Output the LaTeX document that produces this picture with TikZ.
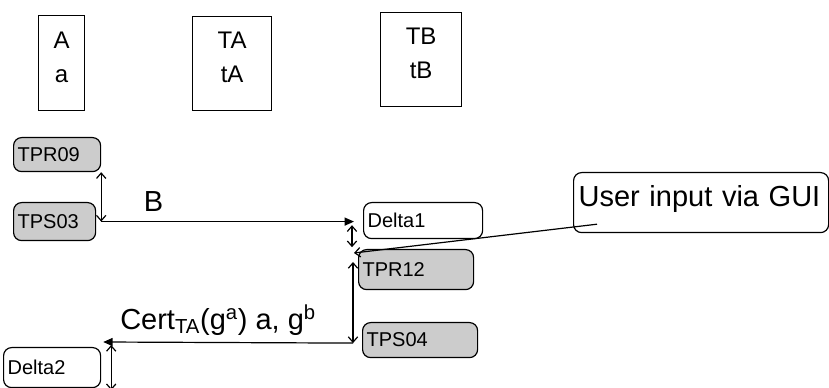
\documentclass[tikz,border=0pt]{standalone}
\usepackage{fontspec}
\setmainfont{Liberation Sans}
\usetikzlibrary{arrows.meta}

\begin{document}
\begin{tikzpicture}[x=0.75pt,y=-0.75pt,line width=0.9pt,
    party/.style={draw, anchor=north west, inner sep=0pt, align=center, text depth=9.5pt, font=\fontsize{18}{25.5}\selectfont},
    tpbox/.style={draw, rounded corners=6pt, anchor=north west, inner xsep=3pt, inner ysep=0pt, align=left, font=\fontsize{15}{18}\selectfont},
    msg/.style={font=\fontsize{21.75}{26}\selectfont},
    dbl/.style={{Straight Barb[length=4pt,width=7pt]}-{Straight Barb[length=4pt,width=7pt]}},
    snd/.style={-{Triangle[length=7pt,width=6pt]}}]
    \useasboundingbox (0,0) rectangle (829,388);

    % parties
    \node[party, minimum width=34.5pt, minimum height=71.25pt] (A) at (38,15) {A\\a};
    \node[party, minimum width=59.25pt, minimum height=70.5pt] (TA) at (192,16) {TA\\tA};
    \node[party, minimum width=60.75pt, minimum height=70.5pt] (TB) at (380,12) {TB\\tB};

    % processing steps
    \node[tpbox, fill=black!20, text width=59.25pt, minimum height=25.5pt] (TPR09) at (13,137) {TPR09};
    \node[tpbox, fill=black!20, text width=55.5pt, minimum height=28.5pt] (TPS03) at (13,202) {TPS03};
    \node[tpbox, text width=83.25pt, minimum height=27pt] (Delta1) at (363,202) {Delta1};
    \node[tpbox, fill=black!20, text width=80.25pt, minimum height=30pt] (TPR12) at (358,249) {TPR12};
    \node[tpbox, fill=black!20, text width=80.25pt, minimum height=26.25pt] (TPS04) at (362,322) {TPS04};
    \node[tpbox, text width=66.75pt, minimum height=30pt] (Delta2) at (3,347) {Delta2};
    \node[tpbox, msg, inner xsep=3.75pt, inner ysep=1pt, text width=183.75pt, text height=24.5pt, text depth=18.5pt] (GUI) at (573,172) {User input via GUI};

    % junctions
    \coordinate (j1) at (TPR09.south east |- TPS03.east);
    \coordinate (c0) at ([xshift=-6.75pt,yshift=-2.25pt]TPS04.west);
    \coordinate (c1) at ([xshift=1.5pt,yshift=3.75pt]Delta2.north east);

    \draw[dbl] (TPR09.south east) -- (j1);
    \draw[snd, shorten >=6.75pt] (j1) -- (j1 -| Delta1.west)
        node[msg, pos=0.2, above, inner sep=0pt, yshift=6.75pt] {B};
    \draw[dbl] ([xshift=-8.25pt,yshift=10.5pt]Delta1.south west) -- ([xshift=-8.25pt,yshift=-6pt]Delta1.south west);
    \draw[-{Straight Barb[length=4pt,width=7pt]}] ([xshift=18pt,yshift=6.75pt]GUI.south west) -- ([xshift=-3pt,yshift=-3pt]TPR12.north west);
    \draw[dbl] ([xshift=-3.75pt,yshift=-9.75pt]TPR12.north west) -- (c0);
    \draw[snd] (c0) -- (c1)
        node[msg, pos=0.54, above, inner sep=0pt, yshift=5pt] {Cert\textsubscript{TA}(g\textsuperscript{a}) a, g\textsuperscript{b}};
    \draw[dbl] ([xshift=7.5pt,yshift=1.5pt]Delta2.north east) -- ([xshift=7.5pt,yshift=-1.5pt]Delta2.south east);
\end{tikzpicture}
\end{document}
